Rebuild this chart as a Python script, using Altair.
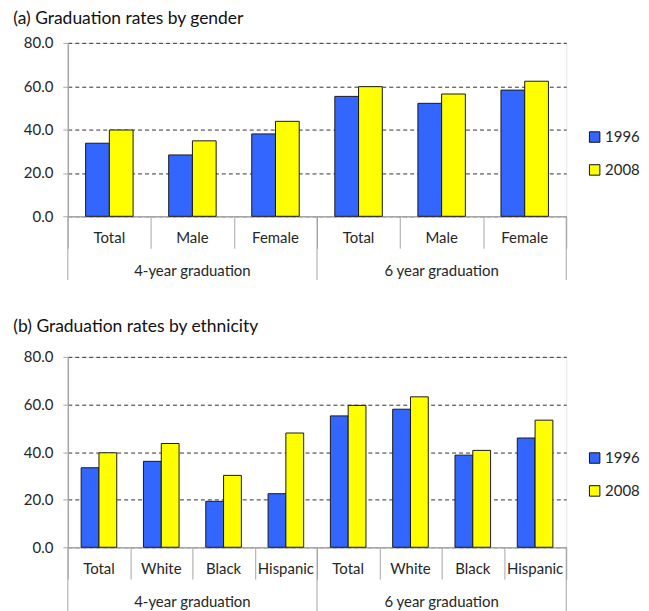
import altair as alt
import pandas as pd

years = ["1996", "2008"]
groups = ["4-year graduation", "6 year graduation"]

cats_a = ["Total", "Male", "Female"]
a_1996 = [33.7, 28.3, 38.0, 55.3, 52.1, 58.2]
a_2008 = [39.8, 34.8, 43.8, 59.8, 56.4, 62.3]

cats_b = ["Total", "White", "Black", "Hispanic"]
b_1996 = [33.4, 36.1, 19.3, 22.5, 55.2, 58.0, 38.7, 45.9]
b_2008 = [39.7, 43.6, 30.2, 48.0, 59.6, 63.2, 40.7, 53.4]

FONT = "Lato"
GRAY = "#a6a6a6"
TEXT = "#262626"
W = 500


def panel(title, cats, v96, v08, height, legend_y, title_offset):
    n = len(cats)
    keys = [f"{g}|{c}" for g in groups for c in cats]
    rows = []
    for i, k in enumerate(keys):
        rows.append({"key": k, "year": years[0], "value": v96[i]})
        rows.append({"key": k, "year": years[1], "value": v08[i]})
    bars_df = pd.DataFrame(rows)
    labels_df = pd.DataFrame({"key": keys, "label": [c for g in groups for c in cats]})
    mid = n // 2
    band_pos = 0.5 if n % 2 else 0.0
    glabel_df = pd.DataFrame({"key": [f"{g}|{cats[mid]}" for g in groups], "label": groups})
    gstart_df = pd.DataFrame({"key": [f"{g}|{cats[0]}" for g in groups]})
    gend_df = pd.DataFrame({"key": [keys[-1]]})

    xscale = alt.Scale(domain=keys, paddingInner=0, paddingOuter=0)

    bars = alt.Chart(bars_df).mark_bar(stroke="#1a1a1a", strokeWidth=1).encode(
        x=alt.X("key:N", scale=xscale, sort=keys,
                axis=alt.Axis(title=None, labels=False, tickBand="extent", tickSize=32,
                              tickColor=GRAY, domainColor=GRAY, domainWidth=1.5, grid=False)),
        xOffset=alt.XOffset("year:N", scale=alt.Scale(paddingOuter=0.75, paddingInner=0)),
        y=alt.Y("value:Q", scale=alt.Scale(domain=[0, 80]),
                axis=alt.Axis(title=None, values=[0, 20, 40, 60, 80], format=".1f",
                              grid=True, gridDash=[4, 3], gridColor="#333333", gridWidth=1,
                              domainColor=GRAY, domainWidth=1.5, tickColor=GRAY, tickSize=5,
                              labelPadding=10,
                              labelFont=FONT, labelFontSize=15, labelColor=TEXT)),
        fill=alt.Fill("year:N", scale=alt.Scale(domain=years, range=["#3366ff", "#ffff00"]),
                      legend=alt.Legend(title=None, orient="none", legendX=521, legendY=legend_y,
                                        symbolType="square", symbolSize=110,
                                        symbolStrokeColor="#111111", symbolStrokeWidth=1,
                                        labelFont=FONT, labelFontSize=15, labelColor=TEXT,
                                        rowPadding=17, labelOffset=3, padding=0)),
    )

    sub_labels = alt.Chart(labels_df).mark_text(font=FONT, fontSize=15, color=TEXT, baseline="middle").encode(
        x=alt.X("key:N"),
        y=alt.value(height + 22),
        text="label:N",
    )
    group_labels = alt.Chart(glabel_df).mark_text(font=FONT, fontSize=15, color=TEXT, baseline="middle").encode(
        x=alt.X("key:N", bandPosition=band_pos),
        y=alt.value(height + 55),
        text="label:N",
    )
    gstart = alt.Chart(gstart_df).mark_rule(color=GRAY, strokeWidth=1).encode(
        x=alt.X("key:N", bandPosition=0),
        y=alt.value(height),
        y2=alt.value(height + 64),
    )
    gend = alt.Chart(gend_df).mark_rule(color=GRAY, strokeWidth=1).encode(
        x=alt.X("key:N", bandPosition=1),
        y=alt.value(height),
        y2=alt.value(height + 64),
    )

    return alt.layer(bars, sub_labels, group_labels, gstart, gend).properties(
        width=W, height=height,
        title=alt.TitleParams(title, anchor="start", frame="bounds", fontSize=17.5, font=FONT,
                              fontWeight="normal", color="#111111", offset=title_offset, dx=-10),
    )


top = panel("(a) Graduation rates by gender", cats_a, a_1996, a_2008, 174, 87, 8.5)
bottom = panel("(b) Graduation rates by ethnicity", cats_b, b_1996, b_2008, 191, 94, 14.5)

chart = alt.vconcat(top, bottom, spacing=36).resolve_scale(
    x="independent", y="independent", xOffset="independent", fill="independent"
).resolve_legend(fill="independent").properties(
    padding={"left": 4, "top": 0, "right": 0, "bottom": 0}
).configure_view(stroke="#e6e6e6")

chart.save("out.html", embed_options={"renderer": "svg", "actions": False})
